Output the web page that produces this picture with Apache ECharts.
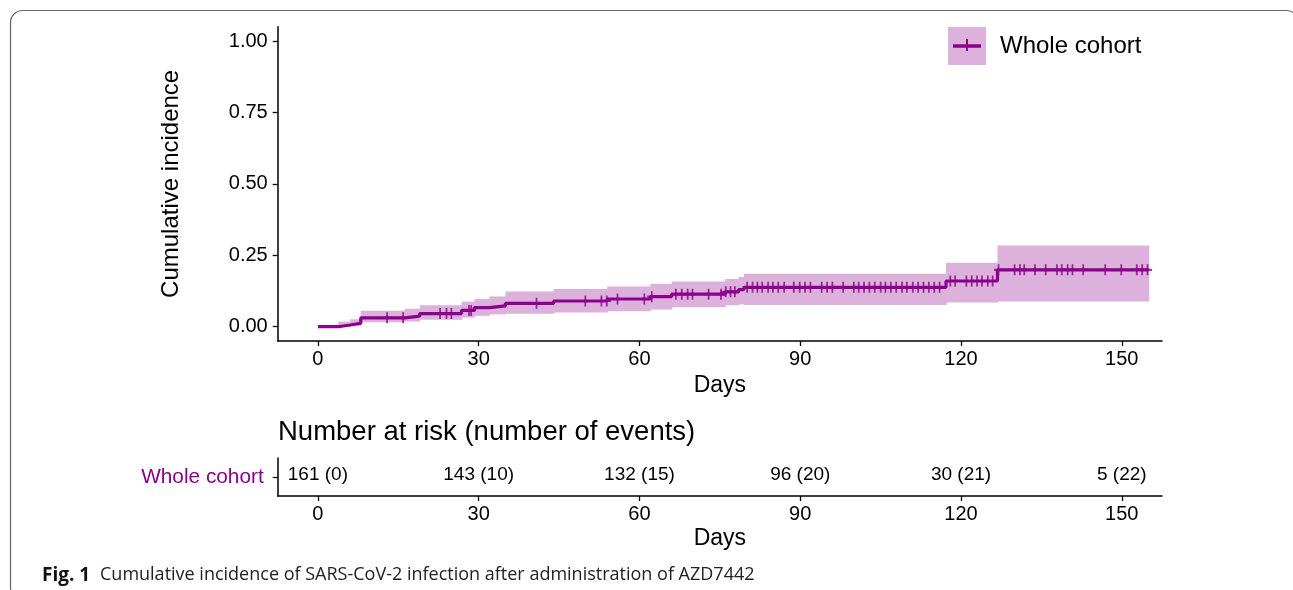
<!DOCTYPE html>
<html><head><meta charset="utf-8">
<script src="https://cdn.jsdelivr.net/npm/echarts@6/dist/echarts.min.js"></script>
<style>html,body{margin:0;padding:0;background:#fff}#c{width:1293px;height:590px}</style>
</head><body><div id="c"></div>
<script>
// ---- data ----
const stepTimes = [0, 3.8, 6, 8, 16.2, 19, 26.8, 29.2, 32, 35, 44, 54, 62, 66, 76, 78.5, 79.5, 117.2, 126.8, 155];
const incidence = [0, 0.006, 0.012, 0.031, 0.037, 0.046, 0.057, 0.067, 0.073, 0.082, 0.090, 0.097, 0.105, 0.114, 0.122, 0.130, 0.138, 0.160, 0.199, 0.199];
const ciLower   = [0, 0.000, 0.002, 0.016, 0.018, 0.024, 0.032, 0.038, 0.043, 0.045, 0.050, 0.054, 0.060, 0.068, 0.075, 0.078, 0.076, 0.085, 0.088, 0.088];
const ciUpper   = [0, 0.018, 0.026, 0.056, 0.063, 0.075, 0.088, 0.097, 0.106, 0.123, 0.132, 0.141, 0.150, 0.158, 0.167, 0.174, 0.185, 0.224, 0.284, 0.284];
const censorTimes = [12.9, 15.9, 22.8, 24, 24.9, 28.2, 28.6, 40.8, 49.9, 52.9, 53.9, 55.9, 60.9, 62.3,
  66.8, 67.9, 69, 69.9, 72.9, 75.2, 76.1, 77, 77.8, 80.1, 81.1, 82, 82.9, 84, 84.9, 85.9, 87,
  88.8, 89.9, 90.9, 91.9, 94, 95, 96, 98, 100, 100.9, 101.9, 102.9, 103.9, 105, 105.9, 106.9,
  107.9, 109, 109.9, 111, 112, 113, 114, 115, 116, 118, 118.9, 121, 122, 123, 123.9, 125, 125.9,
  127, 130, 131, 131.8, 133.8, 135.8, 137.9, 138.8, 139.9, 140.8, 142.8, 146.9, 149.9, 152.8, 153.8, 154.8];
const dayTicks = [0, 30, 60, 90, 120, 150];
const incTicks = [0, 0.25, 0.5, 0.75, 1.0];
const riskTimes = [0, 30, 60, 90, 120, 150];
const atRisk = [161, 143, 132, 96, 30, 5];
const cumEvents = [0, 10, 15, 20, 21, 22];
const groupName = 'Whole cohort';

// ---- chart ----
const PURPLE = '#8B008B', BAND = '#DCB2DC', INK = '#000';
const F = '"Liberation Sans", Arial, sans-serif';
const CAP = '"Open Sans", "Noto Sans", sans-serif';
const PLUS = 'path://M4,0H6V4H10V6H6V10H4V6H0V4H4Z';
function valueAt(t){ let v = 0; for (let i = 0; i < stepTimes.length; i++) if (stepTimes[i] <= t) v = incidence[i]; return v; }

const bandData = [];
for (let i = 0; i < stepTimes.length - 1; i++) bandData.push([stepTimes[i], stepTimes[i+1], ciLower[i], ciUpper[i]]);

const axisLineStyle = {show: true, onZero: false, lineStyle: {color: '#000', width: 1.5}};
const tickStyle = {color: '#000', width: 1.3};
const chart = echarts.init(document.getElementById('c'));
chart.setOption({
  animation: false,
  grid: [
    {left: 277.7, right: 131, top: 26.7, height: 314.3},
    {left: 277.7, right: 131, top: 458, height: 38}
  ],
  xAxis: [
    {gridIndex: 0, type: 'value', min: -7.5, max: 157.5,
     axisLine: axisLineStyle, splitLine: {show: false},
     axisTick: {show: true, length: 5, customValues: dayTicks, lineStyle: tickStyle},
     axisLabel: {customValues: dayTicks, fontSize: 20, color: INK, fontFamily: F, margin: 8},
     name: 'Days', nameLocation: 'middle', nameGap: 31,
     nameTextStyle: {fontSize: 23, color: '#000', fontFamily: F}},
    {gridIndex: 1, type: 'value', min: -7.5, max: 157.5,
     axisLine: axisLineStyle, splitLine: {show: false},
     axisTick: {show: true, length: 5, customValues: dayTicks, lineStyle: tickStyle},
     axisLabel: {customValues: dayTicks, fontSize: 20, color: INK, fontFamily: F, margin: 8},
     name: 'Days', nameLocation: 'middle', nameGap: 31,
     nameTextStyle: {fontSize: 23, color: '#000', fontFamily: F}}
  ],
  yAxis: [
    {gridIndex: 0, type: 'value', min: -0.05, max: 1.05,
     axisLine: axisLineStyle, splitLine: {show: false},
     axisTick: {show: true, length: 5, customValues: incTicks, lineStyle: tickStyle},
     axisLabel: {customValues: incTicks, formatter: v => v.toFixed(2), fontSize: 20, color: INK, fontFamily: F, margin: 10},
     name: 'Cumulative incidence', nameLocation: 'middle', nameGap: 94,
     nameTextStyle: {fontSize: 24, color: '#000', fontFamily: F}},
    {gridIndex: 1, type: 'category', data: [groupName],
     axisLine: axisLineStyle,
     axisTick: {show: true, length: 5, alignWithLabel: true, lineStyle: tickStyle},
     axisLabel: {fontSize: 20.8, color: PURPLE, fontFamily: F, margin: 14}}
  ],
  series: [
    {type: 'custom', xAxisIndex: 0, yAxisIndex: 0, data: bandData, z: 1,
     encode: {x: [0, 1], y: [2, 3]},
     renderItem: function (params, api) {
       const p0 = api.coord([api.value(0), api.value(3)]);
       const p1 = api.coord([api.value(1), api.value(2)]);
       return {type: 'rect', shape: {x: p0[0], y: p0[1], width: p1[0] - p0[0] + 0.7, height: p1[1] - p0[1]},
               style: {fill: BAND}};
     }},
    {type: 'line', xAxisIndex: 0, yAxisIndex: 0, step: 'end', symbol: 'none', z: 3,
     data: stepTimes.map((t, i) => [t, incidence[i]]),
     lineStyle: {color: PURPLE, width: 3.2}},
    {type: 'scatter', xAxisIndex: 0, yAxisIndex: 0, z: 4, symbol: PLUS, symbolSize: [9, 11],
     itemStyle: {color: PURPLE},
     data: censorTimes.map(t => [t, valueAt(t)])},
    {type: 'custom', xAxisIndex: 1, yAxisIndex: 1, z: 5,
     data: riskTimes.map((t, i) => [t, 0, atRisk[i], cumEvents[i]]),
     encode: {x: 0, y: 1},
     renderItem: function (params, api) {
       const p = api.coord([api.value(0), groupName]);
       return {type: 'text', x: p[0], y: p[1] - 2,
               style: {text: api.value(2) + ' (' + api.value(3) + ')', fontSize: 19, fontFamily: F,
                       fill: INK, align: 'center', verticalAlign: 'middle'}};
     }}
  ],
  graphic: [
    {type: 'rect', shape: {x: 10.5, y: 10.5, width: 1288, height: 589, r: 12},
     style: {fill: 'none', stroke: '#666', lineWidth: 1.2}, silent: true},
    {type: 'group', left: 948, top: 27, children: [
      {type: 'rect', shape: {x: 0, y: 0, width: 38, height: 38}, style: {fill: BAND}},
      {type: 'line', shape: {x1: 5, y1: 19, x2: 33, y2: 19}, style: {stroke: PURPLE, lineWidth: 3.5}},
      {type: 'rect', shape: {x: 18, y: 12, width: 2, height: 12}, style: {fill: PURPLE}}
    ]},
    {type: 'text', x: 1000, y: 46, style: {text: 'Whole cohort', fontSize: 24, fontFamily: F, fill: '#000', verticalAlign: 'middle'}},
    {type: 'text', x: 278, y: 432, style: {text: 'Number at risk (number of events)', fontSize: 27.5, fontFamily: F, fill: '#000', verticalAlign: 'middle'}},
    {type: 'text', x: 42, y: 576, style: {text: 'Fig. 1', fontFamily: CAP, fontWeight: 'bold', fontSize: 19, fill: '#111', verticalAlign: 'middle'}},
    {type: 'text', x: 100, y: 575, style: {text: 'Cumulative incidence of SARS-CoV-2 infection after administration of AZD7442',
      fontFamily: CAP, fontSize: 18, fill: '#222', verticalAlign: 'middle'}}
  ]
});
</script>
</body></html>
